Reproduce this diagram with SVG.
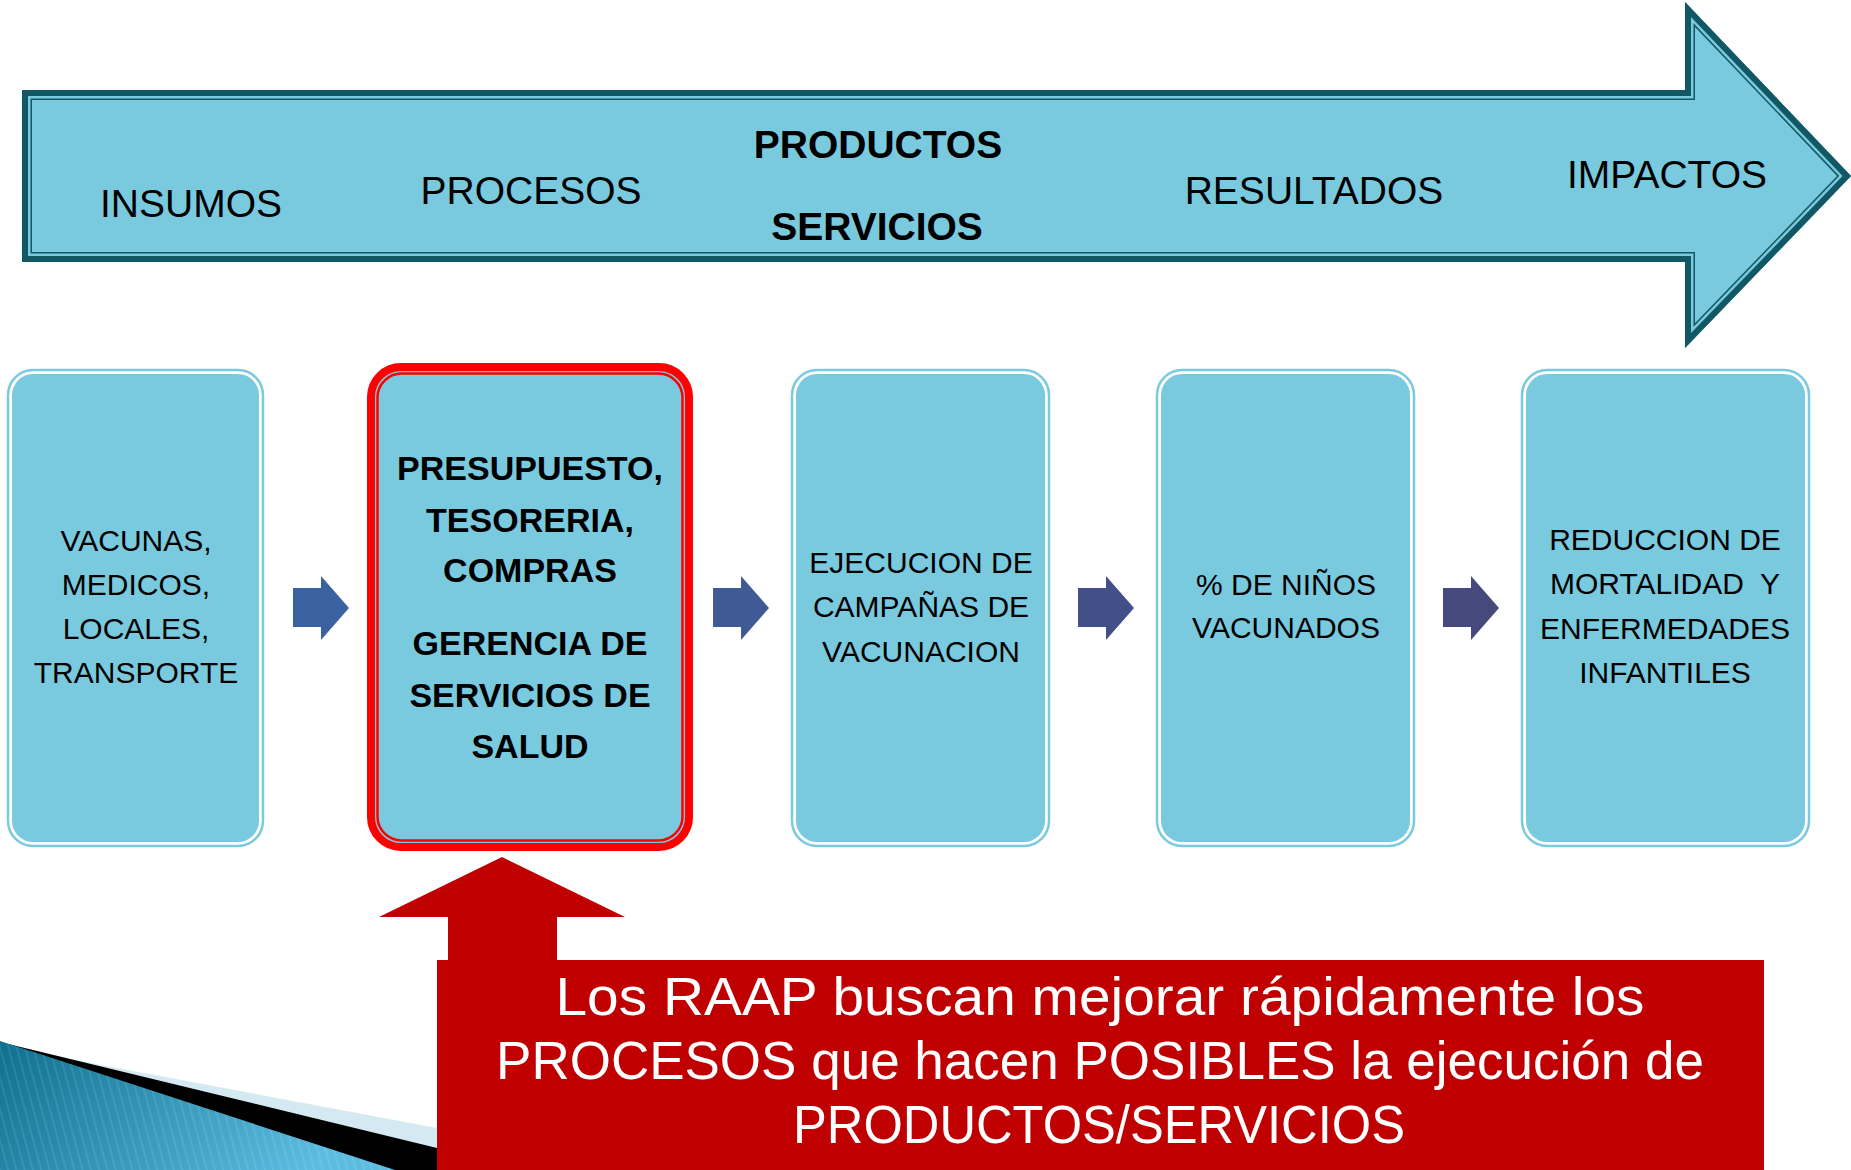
<svg xmlns="http://www.w3.org/2000/svg" width="1851" height="1170" viewBox="0 0 1851 1170">
  <style>
    .hdr { font-family: "Liberation Sans", Arial, sans-serif; font-size: 39px; fill: #000; text-anchor: middle; }
    .hdrb { font-family: "Liberation Sans", Arial, sans-serif; font-size: 39px; font-weight: bold; fill: #000; text-anchor: middle; }
    .bx { font-family: "Liberation Sans", Arial, sans-serif; font-size: 30px; fill: #000; text-anchor: middle; }
    .bxb { font-family: "Liberation Sans", Arial, sans-serif; font-size: 34px; font-weight: bold; fill: #000; text-anchor: middle; }
    .call { font-family: "Liberation Sans", Arial, sans-serif; font-size: 53px; fill: #fff; text-anchor: middle; }
    .boxOuter { fill: #fff; stroke: #7ACADF; stroke-width: 2.5; }
    .boxFill { fill: #7ACADF; }
  </style>
  <defs>
    <clipPath id="arrowClip">
      <polygon points="22,90 1685,90 1685,2 1851,176 1685,348 1685,262 22,262"/>
    </clipPath>
    <linearGradient id="blueWedge" x1="0" y1="0" x2="1" y2="0.3">
      <stop offset="0" stop-color="#0E6F8E"/>
      <stop offset="1" stop-color="#5CBDE1"/>
    </linearGradient>
    <pattern id="stripes" patternUnits="userSpaceOnUse" width="8" height="8" patternTransform="rotate(-15)">
      <line x1="1" y1="0" x2="1" y2="8" stroke="#ffffff" stroke-opacity="0.18" stroke-width="1"/>
    </pattern>
  </defs>

  <!-- Decoration bottom-left -->
  <g id="decoration">
    <polygon points="0,1046 437,1128 437,1170 0,1170" fill="#D4E9F1"/>
    <polygon points="0,1042 437,1148 437,1170 0,1170" fill="#000"/>
    <polygon points="0,1041 395,1170 0,1170" fill="url(#blueWedge)"/>
    <polygon points="0,1041 395,1170 0,1170" fill="url(#stripes)"/>
  </g>

  <!-- Header arrow -->
  <g id="header-arrow">
    <g clip-path="url(#arrowClip)">
      <polygon points="22,90 1685,90 1685,2 1851,176 1685,348 1685,262 22,262" fill="#7ACADF" stroke="#125764" stroke-width="20" stroke-linejoin="miter" stroke-miterlimit="10"/>
      <polygon points="22,90 1685,90 1685,2 1851,176 1685,348 1685,262 22,262" fill="none" stroke="#7ACADF" stroke-width="17" stroke-linejoin="miter" stroke-miterlimit="10"/>
      <polygon points="22,90 1685,90 1685,2 1851,176 1685,348 1685,262 22,262" fill="none" stroke="#125764" stroke-width="12" stroke-linejoin="miter" stroke-miterlimit="10"/>
    </g>
    <text class="hdr" x="191" y="217">INSUMOS</text>
    <text class="hdr" x="531" y="204">PROCESOS</text>
    <text class="hdrb" x="878" y="158">PRODUCTOS</text>
    <text class="hdrb" x="877" y="240">SERVICIOS</text>
    <text class="hdr" x="1314" y="204">RESULTADOS</text>
    <text class="hdr" x="1667" y="188">IMPACTOS</text>
  </g>

  <!-- Nodes -->
  <g id="node-insumos">
    <rect class="boxOuter" x="8" y="370" width="255" height="476" rx="25"/>
    <rect class="boxFill" x="12" y="374" width="247" height="468" rx="21"/>
    <text class="bx" x="136" y="551">VACUNAS,</text>
    <text class="bx" x="136" y="595">MEDICOS,</text>
    <text class="bx" x="136" y="639">LOCALES,</text>
    <text class="bx" x="136" y="683">TRANSPORTE</text>
  </g>

  <g id="node-procesos">
    <rect x="371" y="367" width="318" height="480" rx="30" fill="#7ACADF" stroke="#FF0000" stroke-width="8"/>
    <rect x="377.5" y="373.5" width="305" height="467" rx="24" fill="none" stroke="#FF0000" stroke-width="2.5"/>
    <text class="bxb" x="530" y="480">PRESUPUESTO,</text>
    <text class="bxb" x="530" y="532">TESORERIA,</text>
    <text class="bxb" x="530" y="582">COMPRAS</text>
    <text class="bxb" x="530" y="655">GERENCIA DE</text>
    <text class="bxb" x="530" y="707">SERVICIOS DE</text>
    <text class="bxb" x="530" y="758">SALUD</text>
  </g>

  <g id="node-productos">
    <rect class="boxOuter" x="792" y="370" width="257" height="476" rx="25"/>
    <rect class="boxFill" x="796" y="374" width="249" height="468" rx="21"/>
    <text class="bx" x="921" y="573">EJECUCION DE</text>
    <text class="bx" x="921" y="617">CAMPAÑAS DE</text>
    <text class="bx" x="921" y="662">VACUNACION</text>
  </g>

  <g id="node-resultados">
    <rect class="boxOuter" x="1157" y="370" width="257" height="476" rx="25"/>
    <rect class="boxFill" x="1161" y="374" width="249" height="468" rx="21"/>
    <text class="bx" x="1286" y="595">% DE NIÑOS</text>
    <text class="bx" x="1286" y="638">VACUNADOS</text>
  </g>

  <g id="node-impactos">
    <rect class="boxOuter" x="1522" y="370" width="287" height="476" rx="25"/>
    <rect class="boxFill" x="1526" y="374" width="279" height="468" rx="21"/>
    <text class="bx" x="1665" y="550">REDUCCION DE</text>
    <text class="bx" x="1665" y="594" xml:space="preserve">MORTALIDAD  Y</text>
    <text class="bx" x="1665" y="639">ENFERMEDADES</text>
    <text class="bx" x="1665" y="683">INFANTILES</text>
  </g>

  <!-- Connectors -->
  <g id="connectors">
    <polygon points="293,588 321,588 321,576 349,608 321,640 321,627 293,627" fill="#3B62A0"/>
    <polygon points="713,588 741,588 741,576 769,608 741,640 741,627 713,627" fill="#3F5A95"/>
    <polygon points="1078,588 1106,588 1106,576 1134,608 1106,640 1106,627 1078,627" fill="#434F88"/>
    <polygon points="1443,588 1471,588 1471,576 1499,608 1471,640 1471,627 1443,627" fill="#46497B"/>
    <polygon points="502,857 625,917 557,917 557,961 448,961 448,917 379,917" fill="#C00000"/>
  </g>

  <!-- Callout -->
  <g id="callout">
    <rect x="437" y="960" width="1327" height="210" fill="#C00000"/>
    <text class="call" x="1100" y="1015" textLength="1089" lengthAdjust="spacingAndGlyphs">Los RAAP buscan mejorar rápidamente los</text>
    <text class="call" x="1100" y="1079">PROCESOS que hacen POSIBLES la ejecución de</text>
    <text class="call" x="1099" y="1143" textLength="612" lengthAdjust="spacingAndGlyphs">PRODUCTOS/SERVICIOS</text>
  </g>
</svg>
